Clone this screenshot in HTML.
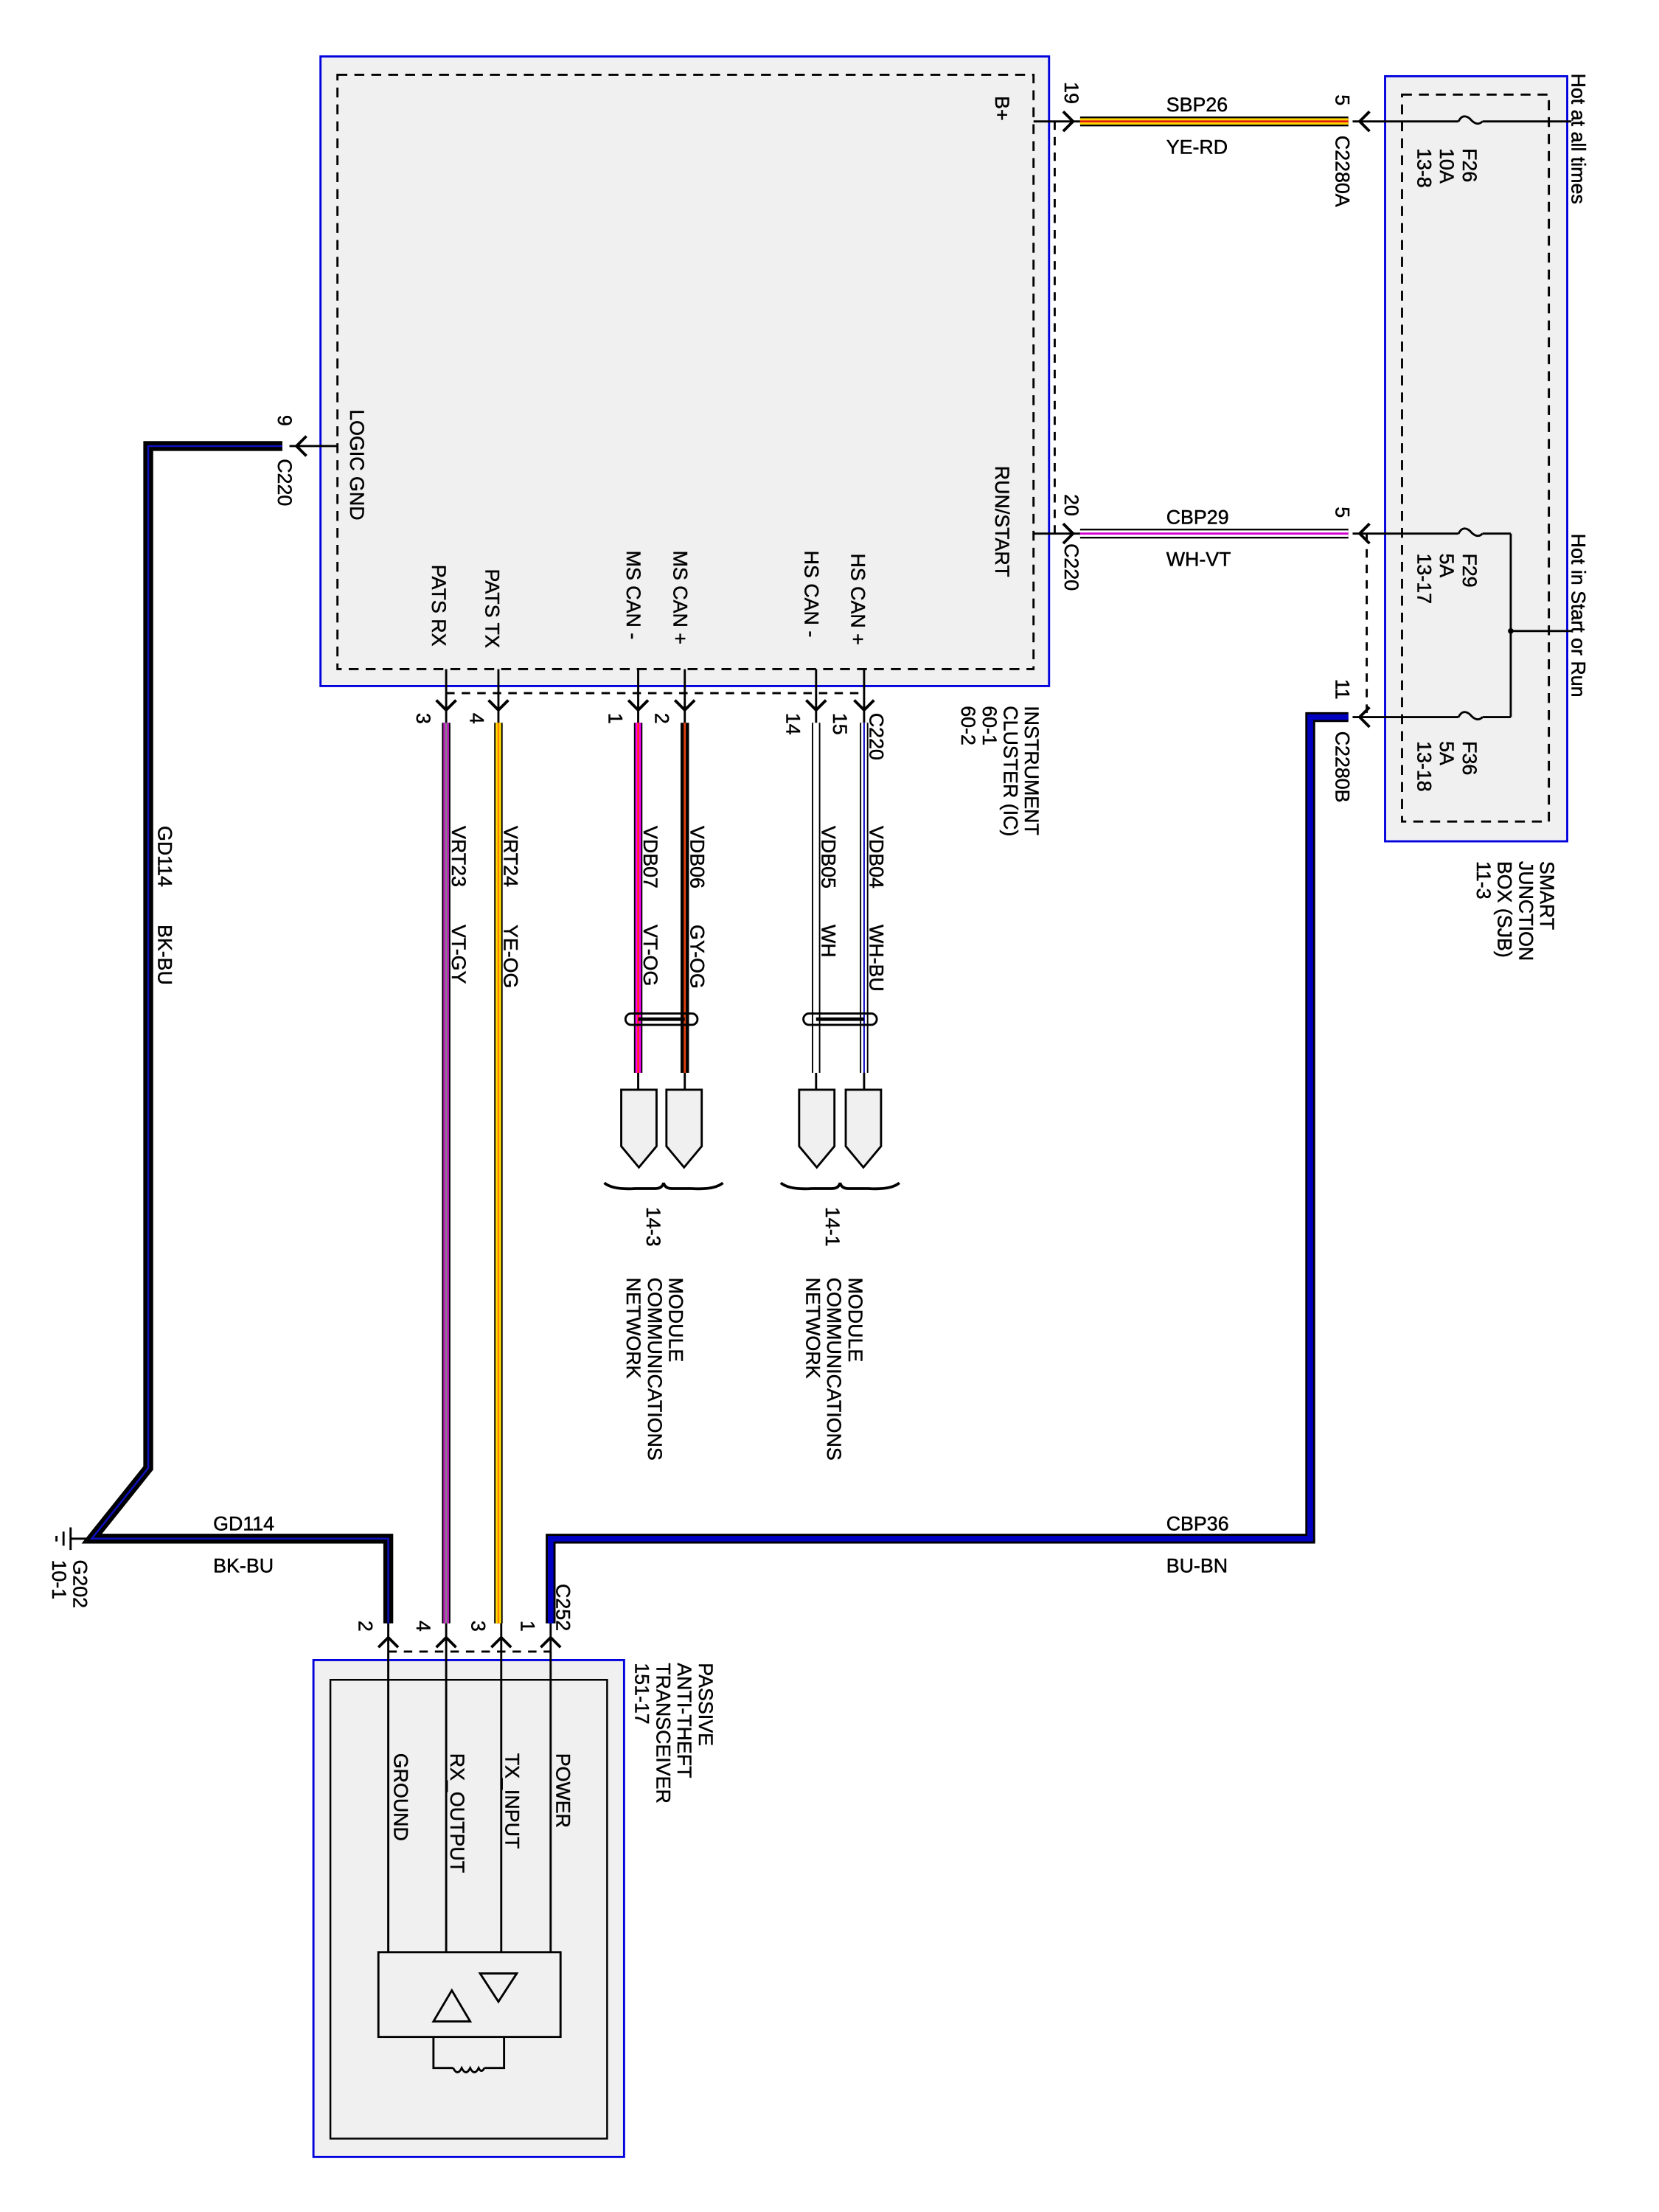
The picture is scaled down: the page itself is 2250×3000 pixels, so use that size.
<!DOCTYPE html>
<html><head><meta charset="utf-8"><style>html,body{margin:0;padding:0;background:#fff}svg{display:block}text{font-family:"Liberation Sans",sans-serif;font-size:14px;fill:#000;stroke:#000;stroke-width:0.25}</style></head>
<body>
<svg width="2250" height="3000" viewBox="0 0 1175 1567" preserveAspectRatio="none" xmlns="http://www.w3.org/2000/svg">
<rect x="227" y="40" width="516" height="446" fill="#f0f0f0" stroke="#0000dd" stroke-width="1.5"/>
<rect x="239" y="53" width="493" height="421" fill="none" stroke="#000" stroke-width="1.5" stroke-dasharray="7,5"/>
<rect x="981" y="54" width="129" height="542" fill="#f0f0f0" stroke="#0000dd" stroke-width="1.5"/>
<rect x="993" y="67" width="104" height="515" fill="none" stroke="#000" stroke-width="1.5" stroke-dasharray="7,5"/>
<rect x="222" y="1176" width="220" height="352" fill="#f0f0f0" stroke="#0000dd" stroke-width="1.5"/>
<rect x="234" y="1190" width="196" height="325" fill="none" stroke="#000" stroke-width="1.3"/>

<g fill="none" stroke="#000" stroke-width="1.5" stroke-dasharray="6,5">
<line x1="747" y1="86" x2="747" y2="378"/>
<line x1="316" y1="491" x2="612" y2="491"/>
<line x1="968" y1="378" x2="968" y2="508"/>
<line x1="275" y1="1170" x2="390" y2="1170"/>
</g>

<g stroke="#000" stroke-width="1.5" fill="none">
<line x1="732" y1="86" x2="765" y2="86"/>
<line x1="732" y1="378" x2="765" y2="378"/>
<line x1="205" y1="316" x2="239" y2="316"/>
<line x1="316" y1="474" x2="316" y2="512"/>
<line x1="353" y1="474" x2="353" y2="512"/>
<line x1="452" y1="474" x2="452" y2="512"/>
<line x1="485" y1="474" x2="485" y2="512"/>
<line x1="578" y1="474" x2="578" y2="512"/>
<line x1="612" y1="474" x2="612" y2="512"/>
<line x1="958" y1="86" x2="1033" y2="86"/><line x1="1050" y1="86" x2="1113" y2="86"/>
<path d="M1033,86 Q1036,80 1041,84 Q1046,90 1050,86" />
<line x1="958" y1="378" x2="1033" y2="378"/><line x1="1050" y1="378" x2="1070" y2="378"/>
<path d="M1033,378 Q1036,372 1041,376 Q1046,382 1050,378" />
<line x1="958" y1="508" x2="1033" y2="508"/><line x1="1050" y1="508" x2="1070" y2="508"/>
<path d="M1033,508 Q1036,502 1041,506 Q1046,512 1050,508" />
<line x1="1070" y1="378" x2="1070" y2="508"/>
<line x1="1070" y1="447" x2="1113" y2="447"/>
<line x1="275" y1="1148" x2="275" y2="1383"/>
<line x1="316" y1="1148" x2="316" y2="1383"/>
<line x1="355" y1="1148" x2="355" y2="1383"/>
<line x1="390" y1="1148" x2="390" y2="1383"/>
<rect x="268" y="1383" width="129" height="60"/>
<path d="M307,1432 L320,1410 L333,1432 Z"/>
<path d="M340,1398 L366,1398 L353,1418 Z"/>
<path d="M307,1443 L307,1465 L321,1465 M343,1465 L357,1465 L357,1443"/>
<path d="M321,1465 q3,6 6,0 q3,6 6,0 q3,6 6,0 q2,4 4,0"/>
<line x1="452" y1="760" x2="452" y2="772"/>
<line x1="485" y1="760" x2="485" y2="772"/>
<line x1="578" y1="760" x2="578" y2="772"/>
<line x1="612" y1="760" x2="612" y2="772"/>
<line x1="50" y1="1090" x2="65" y2="1090"/>
<line x1="50" y1="1082" x2="50" y2="1098"/>
<line x1="45" y1="1085" x2="45" y2="1095"/>
<line x1="40" y1="1088" x2="40" y2="1092"/>
</g>
<circle cx="1070" cy="447" r="2"/>

<g fill="none" stroke-linejoin="miter" stroke-linecap="butt">
<line x1="765" y1="86" x2="955" y2="86" stroke="#000" stroke-width="7"/>
<line x1="765" y1="86" x2="955" y2="86" stroke="#ffd400" stroke-width="4.5"/>
<line x1="765" y1="86" x2="955" y2="86" stroke="#e01010" stroke-width="1.3"/>
<line x1="765" y1="378" x2="955" y2="378" stroke="#000" stroke-width="7"/>
<line x1="765" y1="378" x2="955" y2="378" stroke="#fff" stroke-width="4.5"/>
<line x1="765" y1="378" x2="955" y2="378" stroke="#d000d0" stroke-width="1.5"/>
<polyline points="955,508 928,508 928,1090 390,1090 390,1150" stroke="#000" stroke-width="7"/>
<polyline points="955,508 928,508 928,1090 390,1090 390,1150" stroke="#0000c0" stroke-width="4"/>
<polyline points="200,316 105,316 105,1040 65,1090 275,1090 275,1150" stroke="#000" stroke-width="7"/>
<polyline points="200,316 105,316 105,1040 65,1090 275,1090 275,1150" stroke="#1010c0" stroke-width="1.3"/>
<line x1="316" y1="512" x2="316" y2="1150" stroke="#000" stroke-width="6"/>
<line x1="316" y1="512" x2="316" y2="1150" stroke="#c020c0" stroke-width="4"/>
<line x1="316" y1="512" x2="316" y2="1150" stroke="#808080" stroke-width="1.2"/>
<line x1="353" y1="512" x2="353" y2="1150" stroke="#000" stroke-width="6"/>
<line x1="353" y1="512" x2="353" y2="1150" stroke="#ffe000" stroke-width="4"/>
<line x1="353" y1="512" x2="353" y2="1150" stroke="#ff8000" stroke-width="1.3"/>
<line x1="452" y1="512" x2="452" y2="760" stroke="#000" stroke-width="6"/>
<line x1="452" y1="512" x2="452" y2="760" stroke="#ff00ff" stroke-width="4"/>
<line x1="452" y1="512" x2="452" y2="760" stroke="#ff3000" stroke-width="1.3"/>
<line x1="485" y1="512" x2="485" y2="760" stroke="#000" stroke-width="6"/>
<line x1="485" y1="512" x2="485" y2="760" stroke="#e04010" stroke-width="1.5"/>
<line x1="578" y1="512" x2="578" y2="760" stroke="#000" stroke-width="6"/>
<line x1="578" y1="512" x2="578" y2="760" stroke="#fff" stroke-width="4"/>
<line x1="612" y1="512" x2="612" y2="760" stroke="#000" stroke-width="6"/>
<line x1="612" y1="512" x2="612" y2="760" stroke="#fff" stroke-width="4"/>
<line x1="612" y1="512" x2="612" y2="760" stroke="#0000c0" stroke-width="1"/>
</g>

<g fill="none" stroke="#000" stroke-width="1.5">
<rect x="443" y="718" width="51" height="8" rx="4"/>
<line x1="452" y1="722" x2="485" y2="722" stroke-width="2.5"/>
<rect x="569" y="718" width="52" height="8" rx="4"/>
<line x1="578" y1="722" x2="612" y2="722" stroke-width="2.5"/>
</g>

<g fill="#f0f0f0" stroke="#000" stroke-width="1.5">
<path d="M440,772 h25 v40 l-12.5,15 l-12.5,-15 Z"/>
<path d="M472,772 h25 v40 l-12.5,15 l-12.5,-15 Z"/>
<path d="M566,772 h25 v40 l-12.5,15 l-12.5,-15 Z"/>
<path d="M599,772 h25 v40 l-12.5,15 l-12.5,-15 Z"/>
</g>
<g fill="none" stroke="#000" stroke-width="2">
<path d="M428,838 Q434,843 450,842 L464,842 Q469,842 470,838 Q471,842 476,842 L490,842 Q506,843 512,838"/>
<path d="M553,838 Q559,843 575,842 L589,842 Q594,842 595,838 Q596,842 601,842 L615,842 Q631,843 637,838"/>
</g>

<g fill="none" stroke="#000" stroke-width="2">
<path d="M753,79 L760,86 L753,93"/>
<path d="M753,371 L760,378 L753,385"/>
<path d="M970,79 L963,86 L970,93"/>
<path d="M970,371 L963,378 L970,385"/>
<path d="M970,501 L963,508 L970,515"/>
<path d="M217,309 L210,316 L217,323"/>
<path d="M309,496 L316,503 L323,496"/>
<path d="M346,496 L353,503 L360,496"/>
<path d="M445,496 L452,503 L459,496"/>
<path d="M478,496 L485,503 L492,496"/>
<path d="M571,496 L578,503 L585,496"/>
<path d="M605,496 L612,503 L619,496"/>
<path d="M268,1167 L275,1160 L282,1167"/>
<path d="M309,1167 L316,1160 L323,1167"/>
<path d="M348,1167 L355,1160 L362,1167"/>
<path d="M383,1167 L390,1160 L397,1167"/>
</g>

<text x="826" y="79">SBP26</text>
<text x="826" y="109">YE-RD</text>
<text x="826" y="371">CBP29</text>
<text x="826" y="401">WH-VT</text>
<text x="826" y="1084">CBP36</text>
<text x="826" y="1114">BU-BN</text>
<text x="151" y="1084">GD114</text>
<text x="151" y="1114">BK-BU</text>

<g>
<text transform="translate(705,68) rotate(90)">B+</text>
<text transform="translate(705,330) rotate(90)">RUN/START</text>
<text transform="translate(248,290) rotate(90)">LOGIC GND</text>
<text transform="translate(306,400) rotate(90)">PATS RX</text>
<text transform="translate(344,403) rotate(90)">PATS TX</text>
<text transform="translate(444,390) rotate(90)">MS CAN -</text>
<text transform="translate(477,390) rotate(90)">MS CAN +</text>
<text transform="translate(570,390) rotate(90)">HS CAN -</text>
<text transform="translate(603,392) rotate(90)">HS CAN +</text>

<text transform="translate(754,58) rotate(90)">19</text>
<text transform="translate(754,350) rotate(90)">20</text>
<text transform="translate(754,385) rotate(90)">C220</text>
<text transform="translate(946,67) rotate(90)">5</text>
<text transform="translate(946,96) rotate(90)">C2280A</text>
<text transform="translate(946,359) rotate(90)">5</text>
<text transform="translate(946,481) rotate(90)">11</text>
<text transform="translate(946,518) rotate(90)">C2280B</text>
<text transform="translate(197,294) rotate(90)">9</text>
<text transform="translate(197,325) rotate(90)">C220</text>

<text transform="translate(295,505) rotate(90)">3</text>
<text transform="translate(333,505) rotate(90)">4</text>
<text transform="translate(431,505) rotate(90)">1</text>
<text transform="translate(464,505) rotate(90)">2</text>
<text transform="translate(557,505) rotate(90)">14</text>
<text transform="translate(590,505) rotate(90)">15</text>
<text transform="translate(616,505) rotate(90)">C220</text>

<text transform="translate(726,500) rotate(90)"><tspan x="0" dy="0">INSTRUMENT</tspan><tspan x="0" dy="15">CLUSTER (IC)</tspan><tspan x="0" dy="15">60-1</tspan><tspan x="0" dy="15">60-2</tspan></text>
<text transform="translate(1091,610) rotate(90)"><tspan x="0" dy="0">SMART</tspan><tspan x="0" dy="15">JUNCTION</tspan><tspan x="0" dy="15">BOX (SJB)</tspan><tspan x="0" dy="15">11-3</tspan></text>
<text transform="translate(1113,52) rotate(90)">Hot at all times</text>
<text transform="translate(1113,378) rotate(90)">Hot in Start or Run</text>
<text transform="translate(1036,105) rotate(90)"><tspan x="0" dy="0">F26</tspan><tspan x="0" dy="16">10A</tspan><tspan x="0" dy="16">13-8</tspan></text>
<text transform="translate(1036,392) rotate(90)"><tspan x="0" dy="0">F29</tspan><tspan x="0" dy="16">5A</tspan><tspan x="0" dy="16">13-17</tspan></text>
<text transform="translate(1036,525) rotate(90)"><tspan x="0" dy="0">F36</tspan><tspan x="0" dy="16">5A</tspan><tspan x="0" dy="16">13-18</tspan></text>

<text transform="translate(112,585) rotate(90)">GD114</text>
<text transform="translate(112,655) rotate(90)">BK-BU</text>
<text transform="translate(320,585) rotate(90)">VRT23</text>
<text transform="translate(320,655) rotate(90)">VT-GY</text>
<text transform="translate(357,585) rotate(90)">VRT24</text>
<text transform="translate(357,655) rotate(90)">YE-OG</text>
<text transform="translate(456,585) rotate(90)">VDB07</text>
<text transform="translate(456,655) rotate(90)">VT-OG</text>
<text transform="translate(489,585) rotate(90)">VDB06</text>
<text transform="translate(489,655) rotate(90)">GY-OG</text>
<text transform="translate(582,585) rotate(90)">VDB05</text>
<text transform="translate(582,655) rotate(90)">WH</text>
<text transform="translate(616,585) rotate(90)">VDB04</text>
<text transform="translate(616,655) rotate(90)">WH-BU</text>

<text transform="translate(458,855) rotate(90)">14-3</text>
<text transform="translate(585,855) rotate(90)">14-1</text>
<text transform="translate(474,905) rotate(90)"><tspan x="0" dy="0">MODULE</tspan><tspan x="0" dy="15">COMMUNICATIONS</tspan><tspan x="0" dy="15">NETWORK</tspan></text>
<text transform="translate(601,905) rotate(90)"><tspan x="0" dy="0">MODULE</tspan><tspan x="0" dy="15">COMMUNICATIONS</tspan><tspan x="0" dy="15">NETWORK</tspan></text>

<text transform="translate(52,1105) rotate(90)"><tspan x="0" dy="0">G202</tspan><tspan x="0" dy="15">10-1</tspan></text>

<text transform="translate(254,1148) rotate(90)">2</text>
<text transform="translate(295,1148) rotate(90)">4</text>
<text transform="translate(334,1148) rotate(90)">3</text>
<text transform="translate(369,1148) rotate(90)">1</text>
<text transform="translate(394,1122) rotate(90)">C252</text>
<text transform="translate(279,1242) rotate(90)">GROUND</text>
<text transform="translate(319,1242) rotate(90)">RX_OUTPUT</text>
<text transform="translate(358,1242) rotate(90)">TX_INPUT</text>
<text transform="translate(394,1242) rotate(90)">POWER</text>
<text transform="translate(495,1178) rotate(90)"><tspan x="0" dy="0">PASSIVE</tspan><tspan x="0" dy="15">ANTI-THEFT</tspan><tspan x="0" dy="15">TRANSCEIVER</tspan><tspan x="0" dy="15">151-17</tspan></text>
</g>
</svg>
</body></html>
